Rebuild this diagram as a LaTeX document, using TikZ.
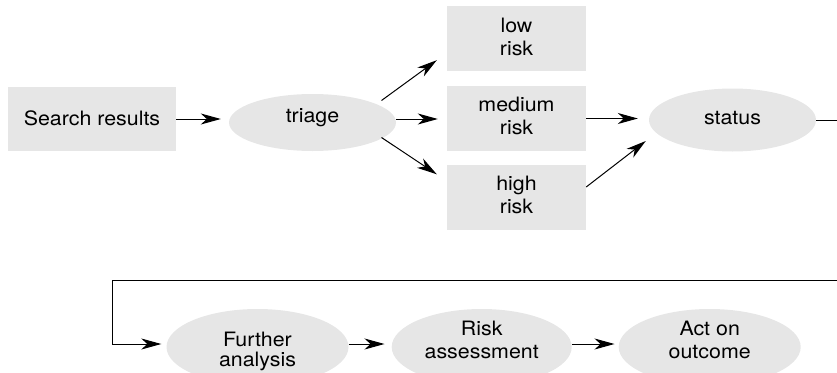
\documentclass[tikz,border=0pt]{standalone}
\usepackage{fontspec}
\setmainfont{TeX Gyre Heros}[FakeStretch=1.08]
\usetikzlibrary{shapes.geometric,arrows.meta,calc}
\definecolor{boxgray}{RGB}{230,230,230}
\newcommand\dgfont{\fontsize{19.8}{23}\selectfont}
\newcommand\lift[2]{\raisebox{#1}[\height][\depth]{\begin{tabular}{@{}c@{}}#2\end{tabular}}}
\begin{document}
\begin{tikzpicture}[x=1pt,y=-1pt,
  boxnode/.style={rectangle, fill=boxgray, inner sep=0pt, font=\dgfont},
  ovalnode/.style={ellipse, fill=boxgray, inner sep=0pt, font=\dgfont},
  arr/.style={-{Stealth[length=20pt,width=11pt,inset=6pt]}, line width=1pt}]
\useasboundingbox (0,0) rectangle (837,372);
\clip (0,0) rectangle (837,372);
\node[boxnode, minimum width=168pt, minimum height=64pt] (search) at (92,119) {\lift{-1.4pt}{Search results}};
\node[ovalnode, minimum width=167pt, minimum height=57pt] (triage) at (312.5,122.5) {\lift{4.5pt}{triage}};
\node[boxnode, minimum width=139pt, minimum height=65pt] (low) at (516.5,38.5) {\lift{-0.7pt}{low\\risk}};
\node[boxnode, minimum width=139pt, minimum height=65pt] (med) at (516.5,118.5) {\lift{0pt}{medium\\risk}};
\node[boxnode, minimum width=139pt, minimum height=65pt] (high) at (516.5,197) {\lift{0pt}{high\\risk}};
\node[ovalnode, minimum width=167pt, minimum height=63pt] (status) at (732.5,120) {\lift{0.6pt}{status}};
\node[ovalnode, minimum width=182pt, minimum height=76pt] (further) at (257.5,347) {\lift{-5pt}{Further\\[-3.5pt]analysis}};
\node[ovalnode, minimum width=180pt, minimum height=76pt] (riskass) at (481.7,347) {\lift{5pt}{Risk\\assessment}};
\node[ovalnode, minimum width=182pt, minimum height=76pt] (act) at (709.7,347) {\lift{5pt}{Act on\\outcome}};
\coordinate (turnR) at (860,280);
\coordinate (turnL) at (112,280);
\draw[arr] (search.east) -- ($(triage.west |- search.east)+(-8,0)$);
\draw[arr] ($(triage.east)+(0,-3.5)$) -- ($(med.west)+(-9,0.5)$);
\draw[arr] ($(triage.center)+(69,-22)$) -- ($(low.south west)+(-10,-11)$);
\draw[arr] ($(triage.center)+(69,15)$) -- ($(high.north west)+(-10,10)$);
\draw[arr] (med.east) -- ($(status.west |- med.east)+(-11,0)$);
\draw[arr] ($(high.east)+(0,-10)$) -- ($(status.west)+(-3,21)$);
\draw[arr] (status.east) -| (turnR) -- (turnL) |- ($(further.west)+(-5,-3)$);
\draw[arr] ($(further.east)+(0,-3)$) -- ($(riskass.west)+(-7,-3)$);
\draw[arr] ($(riskass.east)+(0,-3)$) -- ($(act.west)+(-4,-3)$);
\end{tikzpicture}
\end{document}
